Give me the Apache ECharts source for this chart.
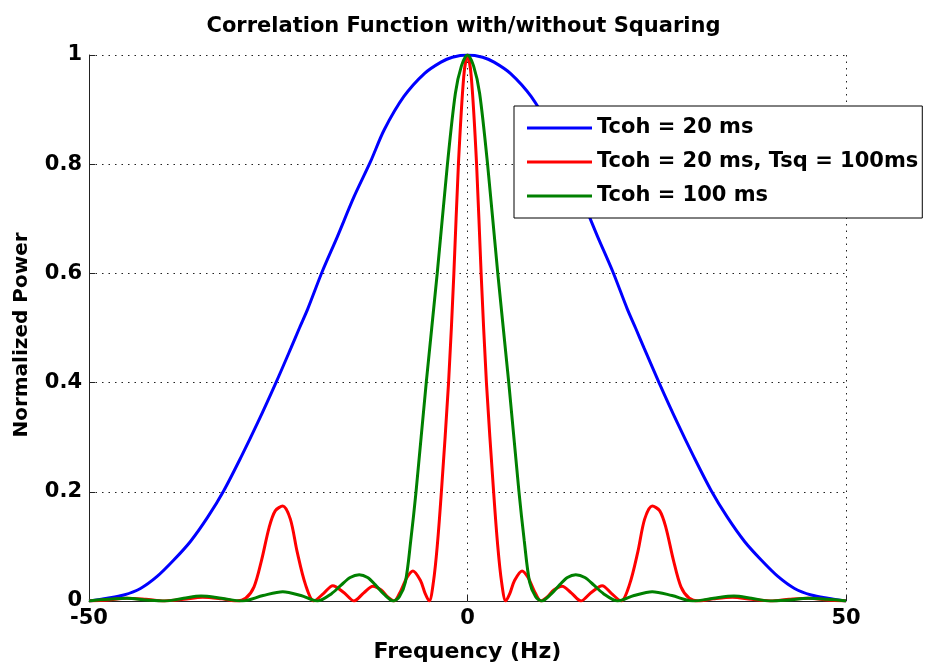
<!DOCTYPE html>
<html>
<head>
<meta charset="utf-8">
<script src="https://cdn.jsdelivr.net/npm/echarts@6/dist/echarts.min.js"></script>
<style>
html,body{margin:0;padding:0;background:#fff;}
#chart{width:927px;height:664px;}
</style>
</head>
<body>
<div id="chart"></div>
<script>
// ---- data ----
const chartTitle = 'Correlation Function with/without Squaring';
const xName = 'Frequency (Hz)';
const yName = 'Normalized Power';
const xTicks = [-50, 0, 50];
const yTicks = [0, 0.2, 0.4, 0.6, 0.8, 1];
const seriesNames = ['Tcoh = 20 ms', 'Tcoh = 20 ms, Tsq = 100ms', 'Tcoh = 100 ms'];

// Tcoh = 20 ms (blue)
const blueX = [-50, -47.6, -45.4, -43.2, -41.0, -38.8, -36.6, -34.3, -32.2, -29.9, -27.7, -25.3, -23.3, -22.2, -21.1, -19.2, -17.2, -15.0, -12.8, -11.0, -8.4, -5.7, -3.5, -2.0, 0,
               2.0, 3.5, 5.7, 8.4, 11.0, 12.8, 15.0, 17.2, 19.2, 21.1, 22.2, 23.3, 25.3, 27.7, 29.9, 32.2, 34.3, 36.6, 38.8, 41.0, 43.2, 45.4, 47.6, 50];
const blueY = [0.0, 0.005, 0.011, 0.023, 0.045, 0.075, 0.109, 0.154, 0.202, 0.264, 0.327, 0.400, 0.464, 0.500, 0.535, 0.603, 0.667, 0.740, 0.805, 0.863, 0.924, 0.966, 0.987, 0.996, 1.0,
               0.996, 0.987, 0.966, 0.924, 0.863, 0.805, 0.740, 0.667, 0.603, 0.535, 0.500, 0.464, 0.400, 0.327, 0.264, 0.202, 0.154, 0.109, 0.075, 0.045, 0.023, 0.011, 0.005, 0.0];

// Tcoh = 20 ms, Tsq = 100ms (red)
const redX = [-50, -47.5, -45, -42.5, -40, -37.5, -35, -32.5, -30.5, -29.3, -28.2, -27.2, -26.2, -25.4, -24.4, -23.4, -22.5, -21.4, -20.3, -19.0, -17.8, -16.3, -15.0, -13.7, -12.5, -11.4, -10.5, -9.7, -8.8, -8.0, -7.2, -6.2, -5.6, -5.05, -4.5, -4.0, -3.45, -2.5, -1.8, -1.2, -0.5, 0,
              0.5, 1.2, 1.8, 2.5, 3.45, 4.0, 4.5, 5.05, 5.6, 6.2, 7.2, 8.0, 8.8, 9.7, 10.5, 11.4, 12.5, 13.7, 15.0, 16.3, 17.8, 19.0, 20.3, 21.4, 22.5, 23.4, 24.4, 25.4, 26.2, 27.2, 28.2, 29.3, 30.5, 32.5, 35, 37.5, 40, 42.5, 45, 47.5, 50];
const redY = [0.0, 0.002, 0.005, 0.003, 0.0, 0.003, 0.007, 0.004, 0.0, 0.005, 0.026, 0.075, 0.135, 0.165, 0.174, 0.150, 0.090, 0.030, 0.0, 0.014, 0.028, 0.015, 0.0, 0.015, 0.027, 0.020, 0.007, 0.0, 0.019, 0.043, 0.055, 0.037, 0.014, 0.0, 0.035, 0.100, 0.200, 0.400, 0.600, 0.800, 0.960, 1.0,
              0.960, 0.800, 0.600, 0.400, 0.200, 0.100, 0.035, 0.0, 0.014, 0.037, 0.055, 0.043, 0.019, 0.0, 0.007, 0.020, 0.027, 0.015, 0.0, 0.015, 0.028, 0.014, 0.0, 0.030, 0.090, 0.150, 0.174, 0.165, 0.135, 0.075, 0.026, 0.005, 0.0, 0.004, 0.007, 0.003, 0.0, 0.003, 0.005, 0.002, 0.0];

// Tcoh = 100 ms (green)
const greenX = [-50, -47.5, -45, -42.5, -40, -37.5, -35.2, -32.5, -29.8, -27, -24.4, -22, -19.8, -18, -16.7, -15.5, -14.3, -13.2, -12.2, -11, -9.8, -9.0, -8.2, -7.5, -6.8, -5.45, -4.0, -2.65, -1.6, -0.8, 0,
                0.8, 1.6, 2.65, 4.0, 5.45, 6.8, 7.5, 8.2, 9.0, 9.8, 11, 12.2, 13.2, 14.3, 15.5, 16.7, 18, 19.8, 22, 24.4, 27, 29.8, 32.5, 35.2, 37.5, 40, 42.5, 45, 47.5, 50];
const greenY = [0.0, 0.003, 0.005, 0.002, 0.0, 0.005, 0.009, 0.005, 0.0, 0.010, 0.017, 0.010, 0.0, 0.013, 0.029, 0.043, 0.048, 0.043, 0.030, 0.012, 0.0, 0.008, 0.035, 0.110, 0.200, 0.400, 0.600, 0.800, 0.930, 0.980, 1.0,
                0.980, 0.930, 0.800, 0.600, 0.400, 0.200, 0.110, 0.035, 0.008, 0.0, 0.012, 0.030, 0.043, 0.048, 0.043, 0.029, 0.013, 0.0, 0.010, 0.017, 0.010, 0.0, 0.005, 0.009, 0.005, 0.0, 0.002, 0.005, 0.003, 0.0];

const seriesColors = ['#0000ff', '#ff0000', '#008000'];

// ---- chart ----
const FONT = 'DejaVu Sans';
const pair = (xs, ys) => xs.map((x, i) => [x, ys[i]]);
const seriesData = [pair(blueX, blueY), pair(redX, redY), pair(greenX, greenY)];

const chart = echarts.init(document.getElementById('chart'), null, {renderer: 'canvas'});
const gridStyle = {show: true, lineStyle: {color: '#222', width: 1, type: [1.5, 5]}};
chart.setOption({
  animation: false,
  backgroundColor: '#fff',
  title: {
    text: chartTitle, left: 'center', top: 11,
    textStyle: {fontFamily: FONT, fontSize: 21, fontWeight: 'bold', color: '#000'}
  },
  grid: {left: 89, right: 81, top: 55, bottom: 63, containLabel: false, outerBoundsMode: 'none'},
  legend: {
    orient: 'vertical', left: 514, top: 106,
    data: seriesNames,
    icon: 'rect', itemWidth: 65, itemHeight: 3, itemGap: 12,
    padding: [11, 4, 11, 13],
    backgroundColor: '#fff', borderColor: '#000', borderWidth: 1, borderRadius: 0,
    textStyle: {fontFamily: FONT, fontSize: 21, fontWeight: 'bold', color: '#000', lineHeight: 22}
  },
  xAxis: {
    type: 'value', min: xTicks[0], max: xTicks[xTicks.length - 1], interval: xTicks[1] - xTicks[0],
    name: xName, nameLocation: 'middle', nameGap: 40,
    nameTextStyle: {fontFamily: FONT, fontSize: 22, fontWeight: 'bold', color: '#000'},
    axisLine: {show: true, onZero: false, lineStyle: {color: '#222', width: 1}},
    axisTick: {show: true, inside: true, length: 6, lineStyle: {color: '#222'}},
    axisLabel: {fontFamily: FONT, fontSize: 21, fontWeight: 'bold', color: '#000', margin: 7},
    splitLine: gridStyle
  },
  yAxis: {
    type: 'value', min: yTicks[0], max: yTicks[yTicks.length - 1], interval: yTicks[1] - yTicks[0],
    name: yName, nameLocation: 'middle', nameGap: 57, nameRotate: 90,
    nameTextStyle: {fontFamily: FONT, fontSize: 20, fontWeight: 'bold', color: '#000', padding: [0, 14, 0, 0]},
    axisLine: {show: true, onZero: false, lineStyle: {color: '#222', width: 1}},
    axisTick: {show: true, inside: true, length: 6, lineStyle: {color: '#222'}},
    axisLabel: {fontFamily: FONT, fontSize: 21, fontWeight: 'bold', color: '#000', margin: 7,
      formatter: v => String(Math.round(v * 10) / 10)},
    splitLine: gridStyle
  },
  series: seriesNames.map((name, i) => ({
    name, type: 'line', data: seriesData[i],
    showSymbol: false, symbol: 'none',
    smooth: 0.3,
    lineStyle: {color: seriesColors[i], width: 3},
    itemStyle: {color: seriesColors[i]},
    z: 2 + i
  }))
});
</script>
</body>
</html>
